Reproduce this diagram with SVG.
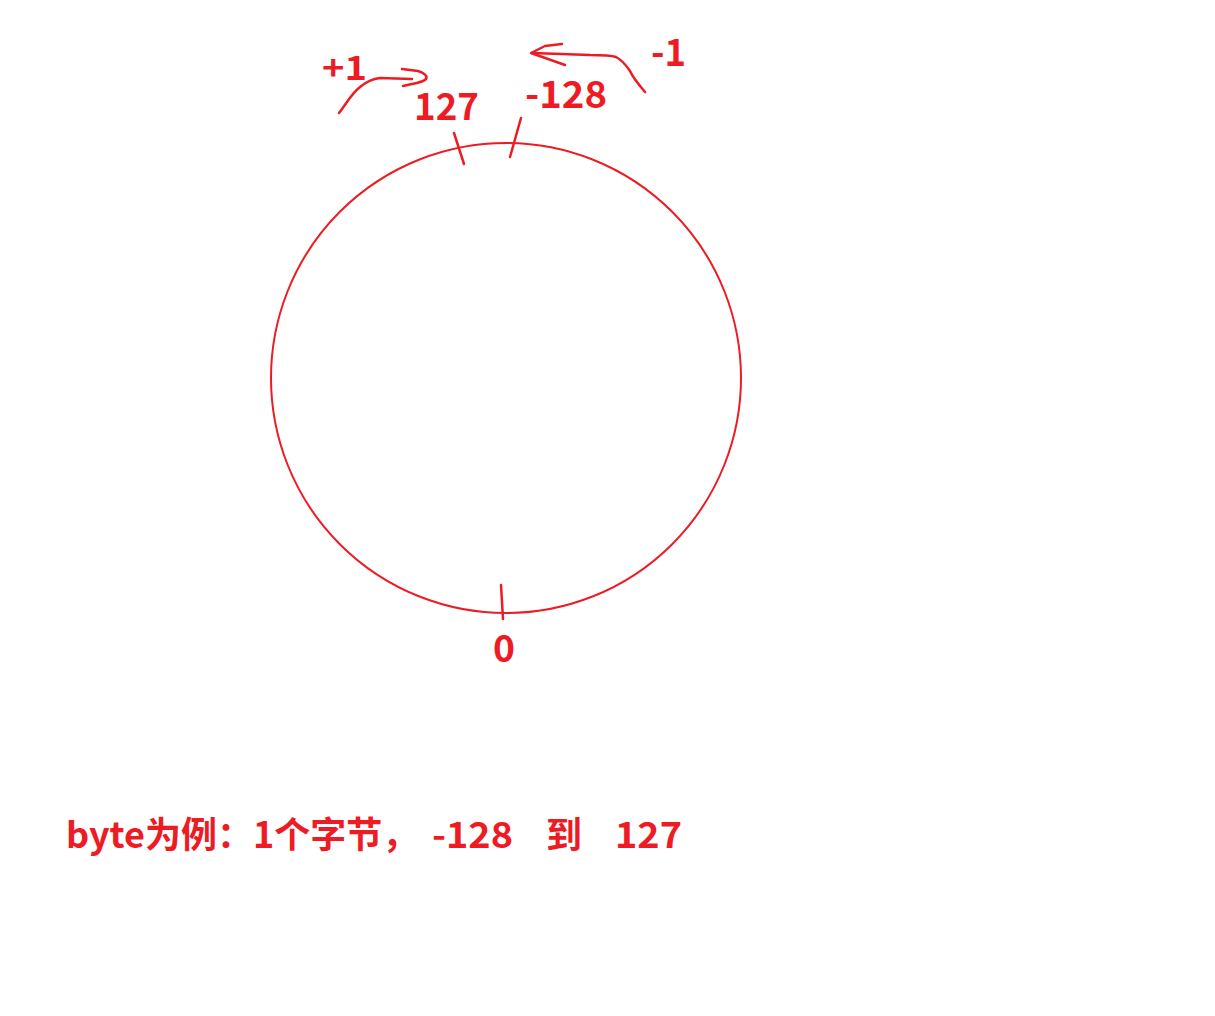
<svg xmlns="http://www.w3.org/2000/svg" width="1215" height="1016" viewBox="0 0 1215 1016">
<style>
.s{fill:none;stroke:#ed1c24;stroke-width:2.5;stroke-linecap:round;stroke-linejoin:round}
.t{fill:#ed1c24;font-family:"Noto Sans CJK SC","Microsoft YaHei","Noto Sans",sans-serif;font-weight:bold}
</style>
<rect width="1215" height="1016" fill="#fff"/>
<g id="ring"><circle cx="506" cy="378" r="235" class="s" style="stroke-width:2"/></g>
<g id="connectors">
<path class="s" d="M454,133 L464,164"/>
<path class="s" d="M521,118 L510,157"/>
<path class="s" d="M501,585 L503,619"/>
<path class="s" d="M339,113 C346,104 352,93 360,87 C366,82 372,79 380,78 L412,79"/>
<path class="s" d="M402,69 L418,71 C424,73 428,76 426,79 C423,82 418,83 412,84 L403,86"/>
<path class="s" d="M645,92 C640,86 633,78 630,71 C626,65 622,60 616,57 C610,55 600,55 590,55 L532,53"/>
<path class="s" d="M562,44 L545,46 L531,53 L565,65"/>
</g>
<g id="labels">
<text class="t" x="414" y="120" font-size="37" textLength="65" lengthAdjust="spacingAndGlyphs">127</text>
<text class="t" x="525" y="108" font-size="37" textLength="82" lengthAdjust="spacingAndGlyphs">-128</text>
<text class="t" x="322" y="80" font-size="33" textLength="45" lengthAdjust="spacingAndGlyphs">+1</text>
<text class="t" x="651" y="66" font-size="37" textLength="35" lengthAdjust="spacingAndGlyphs">-1</text>
<text class="t" x="493" y="662" font-size="37" textLength="22" lengthAdjust="spacingAndGlyphs">0</text>
</g>
<g id="caption">
<text class="t" x="66" y="848" font-size="36">byte为例：1个字节，</text>
<text class="t" x="432" y="848" font-size="36" textLength="81" lengthAdjust="spacingAndGlyphs">-128</text>
<text class="t" x="546" y="848" font-size="36">到</text>
<text class="t" x="615" y="848" font-size="36" textLength="67" lengthAdjust="spacingAndGlyphs">127</text>
</g>
</svg>
